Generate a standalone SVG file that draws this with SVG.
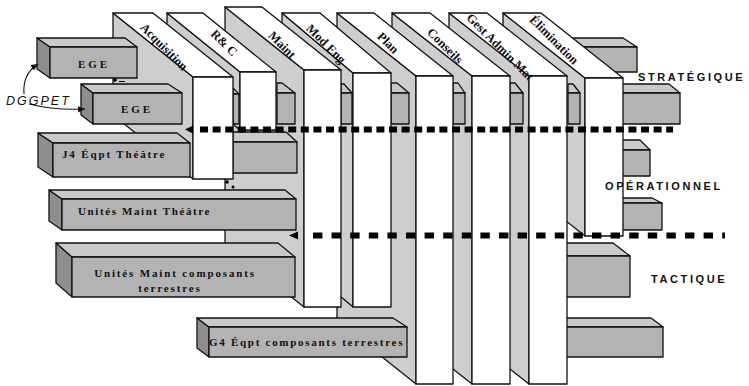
<svg xmlns="http://www.w3.org/2000/svg" width="749" height="386" viewBox="0 0 749 386">
  <defs>
    <style>
      .sd { fill: #cecece; stroke: #111; stroke-width: 1.3; stroke-linejoin: round; }
      .wt { fill: #ffffff; stroke: #111; stroke-width: 1.3; stroke-linejoin: round; }
      .bf { fill: #b3b3b3; stroke: #111; stroke-width: 1.3; stroke-linejoin: round; }
      .bt { fill: #c9c9c9; stroke: #111; stroke-width: 1.3; stroke-linejoin: round; }
      .be { fill: #8e8e8e; stroke: #111; stroke-width: 1.3; stroke-linejoin: round; }
      .fn { font-family: "Liberation Serif", "Times New Roman", serif; font-weight: bold; font-size: 12.5px; fill: #111; }
      .bl { font-family: "Liberation Serif", "Times New Roman", serif; font-weight: bold; font-size: 11px; fill: #111; letter-spacing: 1.7px; }
      .lv { font-family: "Liberation Sans", Arial, sans-serif; font-weight: bold; font-size: 11px; fill: #111; letter-spacing: 2.6px; }
      .dash-up { fill: none; stroke: #000; stroke-width: 6; stroke-dasharray: 8 4.6; }
      .dash-lo { fill: none; stroke: #000; stroke-width: 6; stroke-dasharray: 9.4 9.2; }
      .arr { fill: none; stroke: #111; stroke-width: 1.1; }
    </style>
    <marker id="tip" markerWidth="8" markerHeight="8" refX="7" refY="4" orient="auto" markerUnits="userSpaceOnUse">
      <path d="M0,0.8 L7,4 L0,7.2 Z" fill="#111"/>
    </marker>
  </defs>

  <rect width="749" height="386" fill="#ffffff"/>

  <!-- level bars on the right of the last slab -->
  <g id="bar-right-1">
    <polygon class="bt" points="560,38 623,38 637,47 560,47"/>
    <rect class="bf" x="560" y="47" width="77" height="25"/>
  </g>
  <g id="bar-right-2">
    <polygon class="bt" points="615,84 669,84 680,93 615,93"/>
    <rect class="bf" x="615" y="93" width="65" height="31"/>
  </g>
  <g id="bar-right-3">
    <polygon class="bt" points="615,140 640,140 650,150 615,150"/>
    <rect class="bf" x="615" y="150" width="35" height="26"/>
  </g>
  <g id="bar-right-4">
    <polygon class="bt" points="615,198 652,198 662,203 615,203"/>
    <rect class="bf" x="615" y="203" width="47" height="27"/>
  </g>
  <g id="bar-right-5">
    <polygon class="bt" points="566,243 613,243 630,256 566,256"/>
    <rect class="bf" x="566" y="256" width="64" height="41"/>
  </g>
  <g id="bar-right-6">
    <polygon class="bt" points="566,318 651,318 663,327 566,327"/>
    <rect class="bf" x="566" y="327" width="97" height="30"/>
  </g>

  <!-- slabs, drawn right to left -->
  <g id="slab-elimination">
    <polygon class="sd" points="503,13 585,78 585,236 503,171"/>
    <polygon class="wt" points="503,13 541,13 623,78 585,78"/>
    <rect class="wt" x="585" y="78" width="38" height="158"/>
    <text class="fn" transform="translate(554,40) rotate(45)" y="4" text-anchor="middle">Élimination</text>
  </g>
  <g id="seg-elim">
    <polygon class="bt" points="568,84 573,84 580,93 568,93"/>
    <rect class="bf" x="568" y="93" width="12" height="31"/>
  </g>

  <g id="slab-gest-admin-mat">
    <polygon class="sd" points="449,13 529,76 529,384 449,321"/>
    <polygon class="wt" points="449,13 487,13 567,76 529,76"/>
    <rect class="wt" x="529" y="76" width="38" height="308"/>
    <text class="fn" transform="translate(500,47) rotate(45)" y="4" text-anchor="middle">Gest Admin Mat</text>
  </g>
  <g id="seg-gest">
    <polygon class="bt" points="510,83 515,83 523,93 510,93"/>
    <rect class="bf" x="510" y="93" width="13" height="31"/>
  </g>

  <g id="slab-conseils">
    <polygon class="sd" points="392,13 472,76 472,384 392,321"/>
    <polygon class="wt" points="392,13 430,13 510,76 472,76"/>
    <rect class="wt" x="472" y="76" width="38" height="308"/>
    <text class="fn" transform="translate(445,46) rotate(45)" y="4" text-anchor="middle">Conseils</text>
  </g>
  <g id="seg-conseils">
    <polygon class="bt" points="453,83 458,83 465,93 453,93"/>
    <rect class="bf" x="453" y="93" width="12" height="31"/>
  </g>

  <g id="slab-plan">
    <polygon class="sd" points="337,13 416,76 416,384 337,321"/>
    <polygon class="wt" points="337,13 374,13 453,76 416,76"/>
    <rect class="wt" x="416" y="76" width="37" height="308"/>
    <text class="fn" transform="translate(388,43) rotate(45)" y="4" text-anchor="middle">Plan</text>
  </g>
  <g id="seg-plan">
    <polygon class="bt" points="391,83 397,83 409,93 391,93"/>
    <rect class="bf" x="391" y="93" width="18" height="31"/>
  </g>

  <g id="slab-mod-eng">
    <polygon class="sd" points="282,13 353,73 353,307 282,247"/>
    <polygon class="wt" points="282,13 320,13 391,73 353,73"/>
    <rect class="wt" x="353" y="73" width="38" height="234"/>
    <text class="fn" transform="translate(326,44) rotate(45)" y="4" text-anchor="middle">Mod Eng</text>
  </g>
  <g id="seg-mod-eng">
    <polygon class="bt" points="341,84 344,84 352,93 341,93"/>
    <rect class="bf" x="341" y="93" width="11" height="31"/>
  </g>

  <g id="slab-maint">
    <polygon class="sd" points="225,7 304,70 304,307 225,244"/>
    <polygon class="wt" points="225,7 262,7 341,70 304,70"/>
    <rect class="wt" x="304" y="70" width="37" height="237"/>
    <text class="fn" transform="translate(282,45) rotate(45)" y="4" text-anchor="middle">Maint</text>
  </g>
  <g id="seg-maint">
    <polygon class="bt" points="277,83 282,83 295,93 277,93"/>
    <rect class="bf" x="277" y="93" width="18" height="31"/>
  </g>
  <g id="seg-j4-back">
    <polygon class="bt" points="233,132 286,132 297,142 233,142"/>
    <rect class="bf" x="233" y="142" width="64" height="31"/>
  </g>

  <g id="slab-rc">
    <polygon class="sd" points="167,13 240,72 240,130 167,71"/>
    <polygon class="wt" points="167,13 203,13 276,72 240,72"/>
    <rect class="wt" x="240" y="72" width="36" height="58"/>
    <text class="fn" transform="translate(224,43) rotate(45)" y="4" text-anchor="middle">R&amp; C</text>
  </g>
  <g id="seg-rc">
    <polygon class="bt" points="233,88 239,94 233,94"/>
    <rect class="bf" x="233" y="94" width="6" height="30"/>
  </g>

  <g id="slab-acquisition">
    <polygon class="sd" points="113,13 193,77 193,179 113,115"/>
    <polygon class="wt" points="113,13 153,13 233,77 193,77"/>
    <rect class="wt" x="193" y="77" width="40" height="102"/>
    <text class="fn" transform="translate(164,47) rotate(45)" y="4" text-anchor="middle">Acquisition</text>
  </g>

  <!-- organisation bars in front -->
  <g id="bar-ege-1">
    <polygon class="be" points="37,38 50,47 50,78 37,69"/>
    <polygon class="bt" points="37,38 125,38 137,47 50,47"/>
    <rect class="bf" x="50" y="47" width="87" height="31"/>
    <text class="bl" x="94" y="68" text-anchor="middle" style="letter-spacing:3px">EGE</text>
  </g>
  <g id="bar-ege-2">
    <polygon class="be" points="81,84 93,93 93,124 81,115"/>
    <polygon class="bt" points="81,84 168,84 182,93 93,93"/>
    <rect class="bf" x="93" y="93" width="89" height="31"/>
    <text class="bl" x="137" y="113" text-anchor="middle" style="letter-spacing:3px">EGE</text>
  </g>
  <g id="bar-j4">
    <polygon class="be" points="38,133 53,143 53,177 38,167"/>
    <polygon class="bt" points="38,133 177,133 190,143 53,143"/>
    <rect class="bf" x="53" y="143" width="137" height="34"/>
    <text class="bl" x="62" y="158" style="letter-spacing:1.85px">J4 Éqpt Théâtre</text>
  </g>
  <g id="bar-unites-maint-theatre">
    <polygon class="be" points="49,190 62,199 62,230 49,221"/>
    <polygon class="bt" points="49,190 285,190 296,199 62,199"/>
    <rect class="bf" x="62" y="199" width="234" height="31"/>
    <text class="bl" x="78" y="215" style="letter-spacing:1.6px">Unités Maint Théâtre</text>
  </g>
  <g id="bar-unites-maint-composants">
    <polygon class="be" points="56,243 72,257 72,297 56,283"/>
    <polygon class="bt" points="56,243 278,243 295,257 72,257"/>
    <rect class="bf" x="72" y="257" width="223" height="40"/>
    <text class="bl" x="175" y="277" text-anchor="middle" style="letter-spacing:1.85px">Unités Maint composants</text>
    <text class="bl" x="170" y="292" text-anchor="middle" style="letter-spacing:1.85px">terrestres</text>
  </g>
  <g id="bar-g4">
    <polygon class="be" points="197,318 209,327 209,357 197,348"/>
    <polygon class="bt" points="197,318 393,318 407,327 209,327"/>
    <rect class="bf" x="209" y="327" width="198" height="30"/>
    <text class="bl" x="209" y="346" style="letter-spacing:1.72px">G4 Éqpt composants terrestres</text>
  </g>

  <!-- connectors: level separators and small marks -->
  <g id="connectors">
    <polygon points="185,129.5 193,125.5 193,133.5" fill="#000"/>
    <line class="dash-up" x1="200" y1="129.5" x2="673" y2="129.5"/>
    <polygon points="289,235.5 298,231.5 298,239.5" fill="#000"/>
    <line class="dash-lo" x1="313" y1="235.5" x2="725" y2="235.5"/>
    <circle cx="115" cy="80" r="1.8" fill="#000"/>
    <line x1="119" y1="81.5" x2="125" y2="81.5" stroke="#000" stroke-width="1"/>
    <circle cx="227" cy="182" r="1.8" fill="#000"/>
    <circle cx="233" cy="187" r="1.5" fill="#000"/>
    <path class="arr" d="M24,94 C23,82 27,71 38,64" marker-end="url(#tip)"/>
    <path class="arr" d="M29,104 C45,108 66,110 85,109" marker-end="url(#tip)"/>
  </g>

  <!-- labels -->
  <g id="label-dggpet">
    <text x="6" y="105" font-family="'Liberation Sans', Arial, sans-serif" font-style="italic" font-size="12.5" letter-spacing="2" fill="#111">DGGPET</text>
  </g>
  <g id="level-strategique"><text class="lv" x="638" y="81">STRATÉGIQUE</text></g>
  <g id="level-operationnel"><text class="lv" x="605" y="190">OPÉRATIONNEL</text></g>
  <g id="level-tactique"><text class="lv" x="651" y="283">TACTIQUE</text></g>
</svg>
